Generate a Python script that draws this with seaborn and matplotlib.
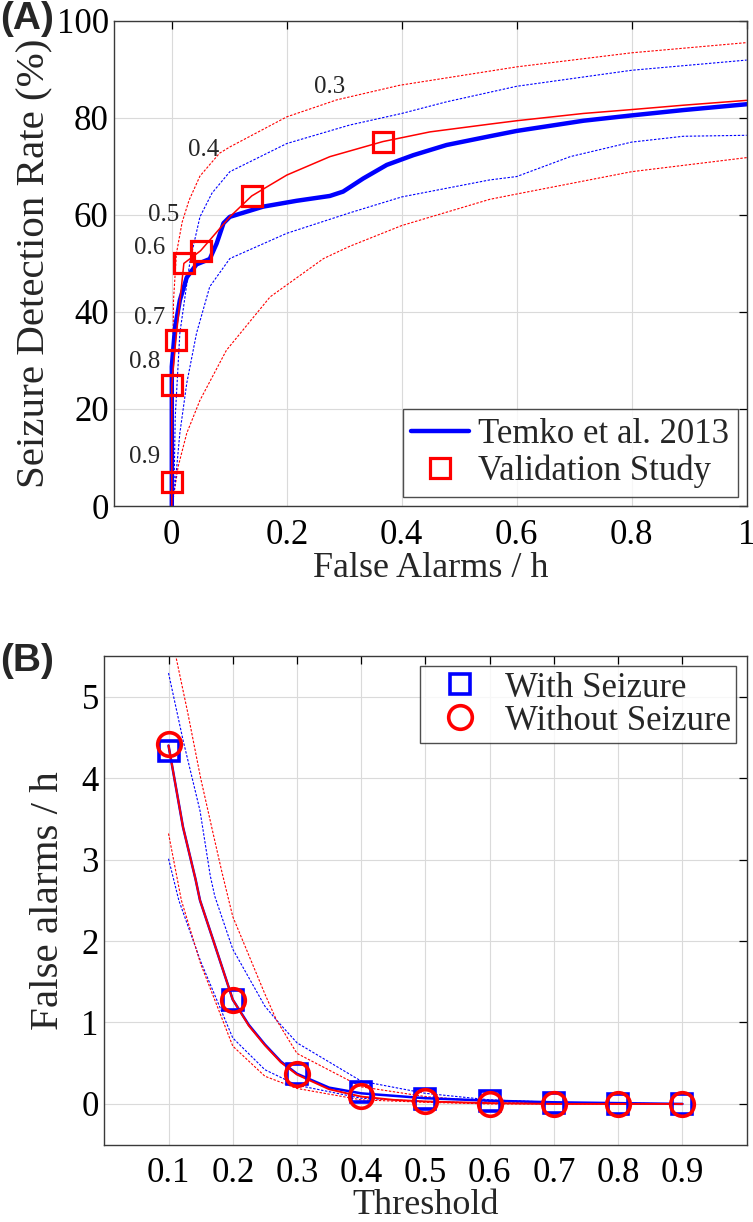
import numpy as np
import pandas as pd
import matplotlib
matplotlib.use("Agg")
import matplotlib.pyplot as plt
import seaborn as sns

# ---- panel A data ----
temko_x = [0, 0, 0.003, 0.006, 0.014, 0.026, 0.043, 0.066, 0.078, 0.09, 0.101, 0.159, 0.217, 0.275, 0.298,
           0.333, 0.374, 0.42, 0.478, 0.553, 0.6, 0.716, 0.8, 0.89, 1.0]
temko_y = [0, 28.7, 33, 37, 42.4, 47.1, 49.8, 50.9, 54.1, 58.3, 59.6, 61.7, 62.9, 63.9, 64.8,
           67.5, 70.3, 72.3, 74.4, 76.2, 77.3, 79.4, 80.5, 81.6, 82.8]

temko_hi_x = [0, 0.004, 0.006, 0.014, 0.032, 0.049, 0.07, 0.101, 0.2, 0.309, 0.4, 0.478, 0.6, 0.8, 1.0]
temko_hi_y = [0, 4.7, 18.4, 35.6, 50.7, 59.6, 64.5, 68.9, 74.7, 78.5, 80.9, 83.3, 86.5, 89.8, 91.9]
temko_lo_x = [0, 0.006, 0.014, 0.026, 0.043, 0.066, 0.101, 0.2, 0.309, 0.4, 0.553, 0.6, 0.693, 0.8, 0.89, 1.0]
temko_lo_y = [0, 4.7, 15, 25.3, 35.6, 45.2, 51, 56.2, 60.4, 63.7, 67.2, 67.9, 72, 75, 76.2, 76.4]

valid_line_x = [0, 0, 0, 0.007, 0.021, 0.05, 0.101, 0.139, 0.2, 0.275, 0.367, 0.449, 0.553, 0.6, 0.716, 0.8, 0.89, 1.0]
valid_line_y = [0, 5, 24.9, 34.2, 50, 52.6, 59.6, 63.9, 68.2, 72, 75.1, 77.1, 78.7, 79.4, 80.9, 81.7, 82.6, 83.6]
valid_hi_x = [0, 0.001, 0.003, 0.008, 0.018, 0.03, 0.049, 0.083, 0.101, 0.2, 0.287, 0.396, 0.6, 0.8, 1.0]
valid_hi_y = [0, 20, 42.4, 52, 58.5, 63, 68, 72.7, 74, 80.2, 83.7, 86.7, 90.5, 93.4, 95.5]
valid_lo_x = [0, 0.003, 0.011, 0.026, 0.049, 0.095, 0.171, 0.264, 0.309, 0.4, 0.553, 0.6, 0.8, 1.0]
valid_lo_y = [0, 1.9, 8.1, 15, 21.8, 32.1, 43.1, 51, 53.5, 57.8, 63.2, 64.3, 68.9, 71.8]

valid_pts_x = [0.367, 0.139, 0.05, 0.021, 0.007, 0.0, 0.0]
valid_pts_y = [75.1, 63.9, 52.6, 50.0, 34.2, 24.9, 5.0]
thr_labels = ["0.3", "0.4", "0.5", "0.6", "0.7", "0.8", "0.9"]
thr_label_x = [0.275, 0.056, -0.015, -0.038, -0.038, -0.047, -0.047]
thr_label_y = [86.4, 73.4, 60.0, 53.1, 38.7, 29.7, 10.1]

a_xticks = [0, 0.2, 0.4, 0.6, 0.8, 1.0]
a_xticklabels = ["0", "0.2", "0.4", "0.6", "0.8", "1"]
a_yticks = [0, 20, 40, 60, 80, 100]

# ---- panel B data ----
thresholds = [0.1, 0.2, 0.3, 0.4, 0.5, 0.6, 0.7, 0.8, 0.9]
fa_with = [4.33, 1.27, 0.37, 0.15, 0.06, 0.04, 0.01, 0.0, 0.0]
fa_without = [4.42, 1.28, 0.37, 0.10, 0.04, 0.0, 0.0, 0.0, 0.0]

fit_x = [0.1, 0.1225, 0.142, 0.149, 0.17, 0.2, 0.225, 0.25, 0.275, 0.3, 0.35, 0.4, 0.45, 0.5, 0.6, 0.7, 0.8, 0.9]
fit_with = [4.4, 3.4, 2.76, 2.5, 2.0, 1.28, 0.97, 0.73, 0.52, 0.37, 0.2, 0.13, 0.1, 0.07, 0.04, 0.02, 0.01, 0.0]
fit_without = [4.4, 3.4, 2.76, 2.5, 2.0, 1.28, 0.96, 0.72, 0.51, 0.36, 0.18, 0.09, 0.05, 0.03, 0.01, 0.0, 0.0, 0.0]

with_hi_x = [0.1, 0.1225, 0.149, 0.165, 0.172, 0.2, 0.25, 0.268, 0.3, 0.4, 0.5, 0.6, 0.7, 0.8, 0.9]
with_hi_y = [5.29, 4.47, 3.6, 2.8, 2.55, 1.9, 1.2, 1.03, 0.75, 0.28, 0.13, 0.05, 0.02, 0.01, 0.0]
with_lo_x = [0.1, 0.116, 0.15, 0.2, 0.25, 0.3, 0.4, 0.5, 0.6, 0.7, 0.9]
with_lo_y = [3.01, 2.5, 1.75, 0.81, 0.42, 0.23, 0.07, 0.03, 0.01, 0.0, 0.0]
without_hi_x = [0.1, 0.111, 0.13, 0.15, 0.17, 0.183, 0.2, 0.25, 0.268, 0.3, 0.4, 0.5, 0.6, 0.7, 0.9]
without_hi_y = [5.9, 5.51, 4.8, 4.0, 3.3, 2.85, 2.3, 1.35, 1.03, 0.62, 0.21, 0.09, 0.03, 0.01, 0.0]
without_lo_x = [0.1, 0.12, 0.15, 0.2, 0.25, 0.3, 0.4, 0.5, 0.6, 0.9]
without_lo_y = [3.32, 2.5, 1.72, 0.71, 0.34, 0.19, 0.05, 0.02, 0.0, 0.0]

b_yticks = [0, 1, 2, 3, 4, 5]

BLUE = "#0000ff"
RED = "#ff0000"
FS = 25      # ticks / legend
XFS = 26     # x axis labels
YFS = 29.5   # y axis labels
DOT = (0, (2.2, 1.4))

sns.set_theme(style="white")
plt.rcParams["font.family"] = ["Liberation Serif", "DejaVu Serif"]

fig = plt.figure(figsize=(7.53, 12.22), dpi=100)
ax1 = fig.add_axes([0.1518, 0.5859, 0.8398, 0.3971])
ax2 = fig.add_axes([0.1385, 0.0633, 0.8531, 0.3999])


def curve(ax, x, y, **kw):
    sns.lineplot(x=x, y=y, ax=ax, estimator=None, sort=False, legend=False, **kw)


def style_axes(ax):
    ax.grid(True, color="#dadada", lw=0.8)
    ax.set_axisbelow(True)
    ax.tick_params(direction="in", top=True, right=True, length=6, width=0.9,
                   labelsize=FS, colors="#000000", pad=4)
    ax.tick_params(axis="x", pad=9)
    for s in ax.spines.values():
        s.set_color("#3a3a3a")
        s.set_linewidth(1.0)


# ---------- (A) ----------
curve(ax1, valid_hi_x, valid_hi_y, color=RED, lw=0.8, linestyle=DOT)
curve(ax1, valid_lo_x, valid_lo_y, color=RED, lw=0.8, linestyle=DOT)
curve(ax1, temko_hi_x, temko_hi_y, color=BLUE, lw=0.8, linestyle=DOT)
curve(ax1, temko_lo_x, temko_lo_y, color=BLUE, lw=0.8, linestyle=DOT)
curve(ax1, temko_x, temko_y, color=BLUE, lw=3.2, label="Temko et al. 2013")
curve(ax1, valid_line_x, valid_line_y, color=RED, lw=1.1)
curve(ax1, valid_pts_x, valid_pts_y, color=RED, linestyle="none", marker="s",
      markersize=14, markerfacecolor="none", markeredgecolor=RED,
      markeredgewidth=2.3, label="Validation Study")

for t, tx, ty in zip(thr_labels, thr_label_x, thr_label_y):
    ax1.text(tx, ty, t, fontsize=18, ha="center", va="center")

ax1.set_xlim(-0.1, 1.0)
ax1.set_ylim(0, 100)
ax1.set_xticks(a_xticks)
ax1.set_xticklabels(a_xticklabels)
ax1.set_yticks(a_yticks)
ax1.set_xlabel("False Alarms / h", fontsize=XFS, labelpad=0)
ax1.set_ylabel("Seizure Detection Rate (%)", fontsize=YFS, labelpad=2)
style_axes(ax1)
h1, l1 = ax1.get_legend_handles_labels()
leg1 = ax1.legend(h1, l1, loc="lower right", fontsize=FS, frameon=True,
                  fancybox=False, edgecolor="#222222", handlelength=1.67,
                  borderaxespad=0.26, borderpad=0.25, labelspacing=0.12,
                  handletextpad=0.25)
leg1.get_frame().set_linewidth(1.0)

# ---------- (B) ----------
curve(ax2, with_hi_x, with_hi_y, color=BLUE, lw=0.8, linestyle=DOT)
curve(ax2, with_lo_x, with_lo_y, color=BLUE, lw=0.8, linestyle=DOT)
curve(ax2, without_hi_x, without_hi_y, color=RED, lw=0.8, linestyle=DOT)
curve(ax2, without_lo_x, without_lo_y, color=RED, lw=0.8, linestyle=DOT)
curve(ax2, fit_x, fit_with, color=BLUE, lw=1.8)
curve(ax2, fit_x, fit_without, color=RED, lw=1.4)
curve(ax2, thresholds, fa_with, color=BLUE, linestyle="none", marker="s",
      markersize=15, markerfacecolor="none", markeredgecolor=BLUE,
      markeredgewidth=2.6, label="With Seizure")
curve(ax2, thresholds, fa_without, color=RED, linestyle="none", marker="o",
      markersize=17, markerfacecolor="none", markeredgecolor=RED,
      markeredgewidth=2.6, label="Without Seizure")

ax2.set_xlim(0, 1.0)
ax2.set_ylim(-0.5, 5.5)
ax2.set_xticks(thresholds)
ax2.set_xticklabels([f"{t:.1f}" for t in thresholds])
ax2.set_yticks(b_yticks)
ax2.set_xlabel("Threshold", fontsize=XFS, labelpad=-1)
ax2.set_ylabel("False alarms / h", fontsize=YFS, labelpad=10)
style_axes(ax2)
h2, l2 = ax2.get_legend_handles_labels()
leg2 = ax2.legend(h2, l2, loc="upper right", fontsize=FS, frameon=True,
                  fancybox=False, edgecolor="#222222", handlelength=2.0,
                  borderaxespad=0.3, borderpad=0.15, labelspacing=0.0,
                  handletextpad=0.3)
leg2.get_frame().set_linewidth(1.0)

fig.text(0.0, 0.999, "(A)", family=["Liberation Sans", "DejaVu Sans"],
         fontweight="bold", fontsize=28, va="top", ha="left")
fig.text(0.0, 0.474, "(B)", family=["Liberation Sans", "DejaVu Sans"],
         fontweight="bold", fontsize=28, va="top", ha="left")

fig.savefig("out.png", dpi=100)
